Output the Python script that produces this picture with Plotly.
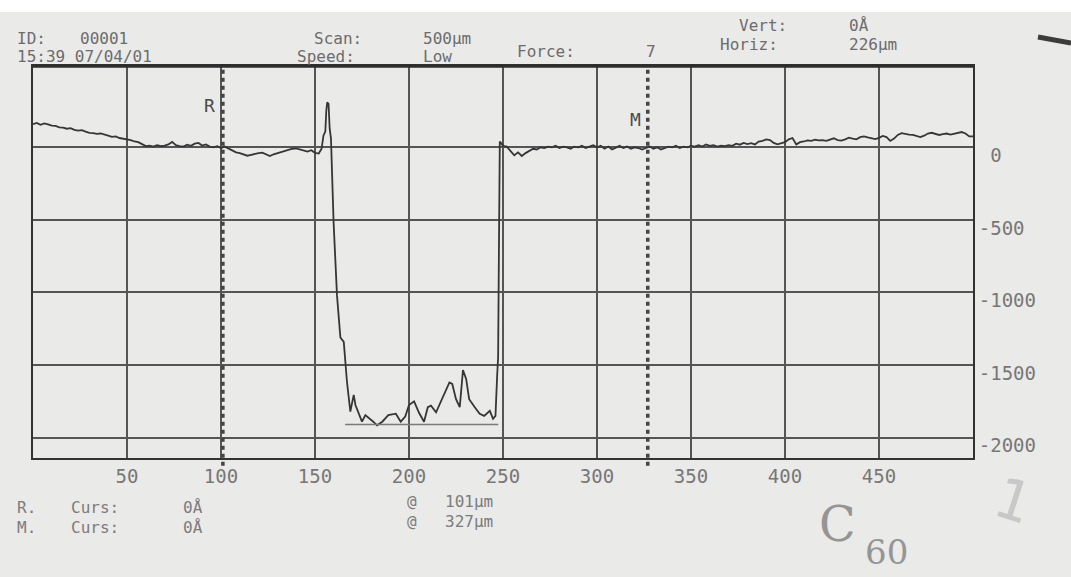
import plotly.graph_objects as go

# ---- stylus profile (scan position in µm, step height in Å) ----
scan_um = [
    0, 2, 4, 6, 8, 10, 12, 14, 16, 18, 20, 22, 24, 26, 28, 30, 32, 34, 36, 38,
    40, 42, 44, 46, 48, 50, 52, 54, 56, 58, 60, 62, 64, 66, 68, 70, 72, 74, 76, 78,
    80, 82, 84, 86, 88, 90, 92, 94, 96, 98, 100, 102, 104, 106, 108, 110, 112, 114,
    116, 118, 120, 122, 124, 126, 128, 130, 132, 134, 136, 138, 140, 142, 144, 146,
    148, 150, 152, 153.5,
    154.5, 155.5, 156, 156.5, 157.2, 157.8, 158.5,
    159.9, 161.7, 163.5, 165.3, 166.2, 167, 168.8, 170.6, 171.5, 173.3, 175, 176.8,
    179.5, 181, 183, 185.8, 189, 193, 195.6, 198, 200, 202.7, 205.4, 208, 210, 211.7,
    214.4, 216, 219, 221.5, 223, 225, 227, 228.7, 230.4, 232, 235, 237.6, 240, 243,
    244.7, 246, 246.9, 247.4, 247.9, 248.3,
    249, 250, 252, 254, 256, 258, 260, 262, 264, 266, 268, 270, 272, 274, 276, 278,
    280, 282, 284, 286, 288, 290, 292, 294, 296, 298, 300, 302, 304, 306, 308, 310,
    312, 314, 316, 318, 320, 322, 324, 326, 328, 330, 332, 334, 336, 338, 340, 342,
    344, 346, 348, 350, 352, 354, 356, 358, 360, 362, 364, 366, 368, 370, 372, 374,
    376, 378, 380, 382, 384, 386, 388, 390, 392, 394, 396, 398, 400, 402, 404, 406,
    408, 410, 412, 414, 416, 418, 420, 422, 424, 426, 428, 430, 432, 434, 436, 438,
    440, 442, 444, 446, 448, 450, 452, 454, 456, 458, 460, 462, 464, 466, 468, 470,
    472, 474, 476, 478, 480, 482, 484, 486, 488, 490, 492, 494, 496, 498, 500,
]
height_A = [
    160, 168, 155, 165, 158, 150, 148, 138, 135, 128, 132, 120, 115, 118, 108, 100, 98, 92, 95, 85,
    80, 72, 75, 64, 60, 55, 50, 40, 35, 22, 8, 12, 5, 15, 8, 12, 20, 37, 15, 8,
    5, 18, 10, 25, 30, 12, 20, 5, 0, 8, -5, 5, -10, -20, -35, -40, -50, -58,
    -52, -45, -40, -37, -50, -60, -48, -40, -30, -25, -15, -10, -7, -15, -25, -30,
    -20, -38, -43, -10,
    80, 110, 250, 310, 300, 130, 60,
    -520, -1020, -1310, -1340, -1520, -1615, -1820, -1705, -1775, -1835, -1890, -1845,
    -1870, -1890, -1915, -1890, -1845, -1835, -1890, -1855, -1775, -1750, -1830, -1890, -1790, -1780,
    -1825, -1780, -1690, -1620, -1630, -1735, -1790, -1535, -1595, -1735, -1790, -1835, -1850, -1815,
    -1870, -1850, -1570, -1450, -600, 40,
    30, 10, 5, -25, -55, -35, -60, -40, -25, -10, -15, 0, -5, 5, 0, 10,
    -5, 5, 0, -10, 5, 0, 10, -5, 5, 15, 0, 10, -10, 5, -15, 0,
    10, -5, 5, -10, 0, -5, -15, -5, 5, -10, 0, -15, -5, 5, 0, 10,
    -5, 5, 0, 10, 5, 15, 5, 20, 10, 15, 5, 12, 8, 15, 10, 25,
    18, 30, 22, 28, 20, 40, 45, 55, 50, 30, 20, 25, 35, 55, 64, 20,
    35, 40, 48, 45, 52, 48, 50, 45, 55, 62, 50, 46, 55, 66, 60, 55,
    70, 75, 68, 60, 57, 65, 78, 70, 44, 60, 85, 97, 90, 88, 85, 75,
    70, 80, 95, 100, 92, 85, 90, 95, 88, 95, 100, 105, 95, 75, 75,
]

# levelling reference under the trench
level_um = [166, 247.5]
level_A = [-1910, -1910]

# cursors
r_cursor_um = 101
m_cursor_um = 327

x_ticks = [50, 100, 150, 200, 250, 300, 350, 400, 450]
y_ticks = [0, -500, -1000, -1500, -2000]
y_tick_text = ["\u00a00", "-500", "-1000", "-1500", "-2000"]

# ---- page geometry ----
FIG_W, FIG_H = 1071, 577
ML, MR, MT, MB = 33, 98, 66, 119
PW, PH = FIG_W - ML - MR, FIG_H - MT - MB

PAPER = "#eaeae8"
INK = "#363636"
GRID = "#555555"
TEXT = "#6c6c6c"
MONO = "DejaVu Sans Mono"
FS = 16


def px(x):
    return (x - ML) / PW


def py(y):
    return 1 - (y - MT) / PH


fig = go.Figure()

fig.add_trace(go.Scatter(
    x=scan_um, y=height_A, mode="lines",
    line=dict(color=INK, width=1.8), hoverinfo="skip", showlegend=False,
))
fig.add_trace(go.Scatter(
    x=level_um, y=level_A, mode="lines",
    line=dict(color="#7a7a7a", width=1.5), hoverinfo="skip", showlegend=False,
))

shapes = []
# cursor lines
for xc in (r_cursor_um, m_cursor_um):
    shapes.append(dict(type="line", xref="x", yref="paper", x0=xc, x1=xc, y0=-0.02, y1=1,
                       line=dict(color="#444444", width=3.5, dash="4px,4px")))
# heavy top border of the printout frame
shapes.append(dict(type="line", xref="paper", yref="paper", x0=0, x1=1, y0=1, y1=1,
                   line=dict(color="#2e2e2e", width=3.5)))
# white strip at the top edge
shapes.append(dict(type="rect", xref="paper", yref="paper", x0=px(0), x1=px(FIG_W),
                   y0=py(12), y1=py(0), line=dict(width=0), fillcolor="white", layer="below"))
# pen lying on the sheet
shapes.append(dict(type="line", xref="paper", yref="paper", x0=px(1038), x1=px(1071),
                   y0=py(37), y1=py(43), line=dict(color="#3c3c3c", width=5)))

annotations = []


def label(text, x, y, size=FS, color=TEXT, anchor="left", family=MONO, **kw):
    annotations.append(dict(text=text, x=px(x), y=py(y), xref="paper", yref="paper",
                            xanchor=anchor, yanchor="middle", showarrow=False,
                            font=dict(family=family, size=size, color=color), **kw))


# header block
label("ID:", 15, 38)
label("00001", 78, 38)
label("15:39 07/04/01", 15, 56)
label("Scan:", 312, 38)
label("500µm", 421, 38)
label("Speed:", 295, 56)
label("Low", 421, 56)
label("Force:", 515, 51)
label("7", 644, 51)
label("Vert:", 737, 25)
label("0Å", 847, 25)
label("Horiz:", 718, 44)
label("226µm", 847, 44)

# cursor readouts
SOFT = "#7c7c7c"
label("R.", 15, 507, color=SOFT)
label("Curs:", 69, 507, color=SOFT)
label("0Å", 181, 507, color=SOFT)
label("M.", 15, 527, color=SOFT)
label("Curs:", 69, 527, color=SOFT)
label("0Å", 181, 527, color=SOFT)
label("@", 405, 501, color=SOFT)
label("101µm", 443, 501, color=SOFT)
label("@", 405, 521, color=SOFT)
label("327µm", 443, 521, color=SOFT)

# cursor tags at the top of the plot
annotations.append(dict(text="R", x=r_cursor_um, xref="x", y=py(93), yref="paper",
                        xanchor="right", xshift=-6, showarrow=False,
                        font=dict(family=MONO, size=18, color="#4a4a4a")))
annotations.append(dict(text="M", x=m_cursor_um, xref="x", y=py(107), yref="paper",
                        xanchor="right", xshift=-5, showarrow=False,
                        font=dict(family=MONO, size=18, color="#4a4a4a")))

# pencil notes
label("C", 837, 524, size=48, color="#959595", anchor="center",
      family="DejaVu Serif")
label("60", 886, 552, size=34, color="#959595", anchor="center",
      family="DejaVu Serif")
label("1", 1014, 500, size=56, color="#c8c8c8", anchor="center",
      family="DejaVu Sans", textangle=18)

fig.update_layout(
    width=FIG_W, height=FIG_H,
    margin=dict(l=ML, r=MR, t=MT, b=MB, pad=0),
    paper_bgcolor=PAPER, plot_bgcolor=PAPER,
    shapes=shapes, annotations=annotations,
    showlegend=False,
)
fig.update_xaxes(
    range=[0, 500], tickvals=x_ticks, showgrid=True, gridcolor=GRID, gridwidth=1.6,
    zeroline=False, showline=True, linecolor="#333333", linewidth=2, mirror=True,
    ticks="", tickfont=dict(family=MONO, size=19, color="#777777"),
)
fig.update_yaxes(
    range=[-2140, 560], tickvals=y_ticks, ticktext=y_tick_text, side="right",
    showgrid=True, gridcolor=GRID, gridwidth=1.6, zeroline=False,
    showline=True, linecolor="#333333", linewidth=2, mirror=True,
    ticks="", ticklabelshift=8, tickfont=dict(family=MONO, size=19, color="#777777"),
)

fig.write_html("out.html")
